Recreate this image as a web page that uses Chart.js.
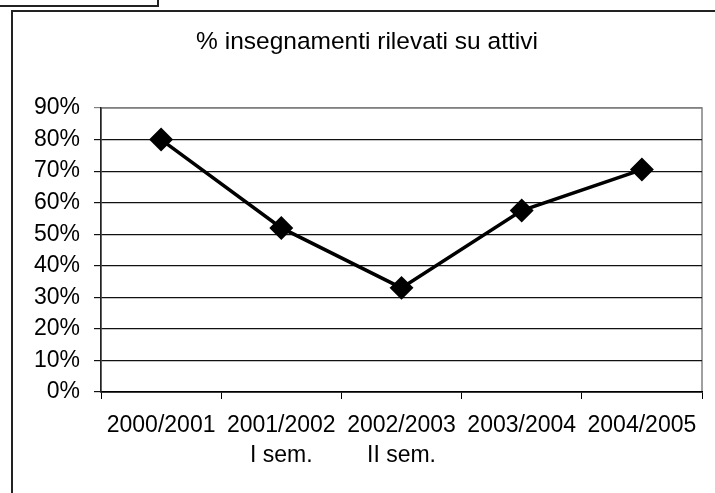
<!DOCTYPE html>
<html>
<head>
<meta charset="utf-8">
<script src="https://cdn.jsdelivr.net/npm/chart.js@4/dist/chart.umd.min.js"></script>
<style>
  html, body { margin: 0; padding: 0; background: #fff; }
  #wrap { width: 715px; height: 493px; }
</style>
</head>
<body>
<div id="wrap"><canvas id="chart"></canvas></div>
<script>
const title = '% insegnamenti rilevati su attivi';
const years = [['2000/2001'], ['2001/2002', 'I sem.'], ['2002/2003', 'II sem.'], ['2003/2004'], ['2004/2005']];
const rilevati = [80, 52, 33, 57.5, 70.5];
const yMax = 90;
const yStep = 10;

const FONT = '"Liberation Sans", Arial, sans-serif';

// frame, little box top-left, plot-area border and title
const decor = {
  id: 'decor',
  beforeDraw(chart) {
    const ctx = chart.ctx;
    const a = chart.chartArea;
    ctx.save();
    ctx.strokeStyle = '#222';
    ctx.lineWidth = 2;
    ctx.strokeRect(-2, -2, 160, 8);
    ctx.beginPath();
    ctx.moveTo(12, 493);
    ctx.lineTo(12, 11);
    ctx.lineTo(716, 11);
    ctx.stroke();
    ctx.strokeStyle = '#808080';
    ctx.lineWidth = 1.5;
    ctx.strokeRect(a.left, a.top, a.right - a.left, a.bottom - a.top);
    ctx.fillStyle = '#000';
    ctx.font = '24.5px ' + FONT;
    ctx.textAlign = 'center';
    ctx.textBaseline = 'middle';
    ctx.fillText(title, 367, 42);
    ctx.restore();
  }
};

new Chart(document.getElementById('chart'), {
  type: 'line',
  data: {
    labels: years,
    datasets: [{
      label: title,
      data: rilevati,
      borderColor: '#000',
      borderWidth: 3.5,
      backgroundColor: '#000',
      pointStyle: 'rectRot',
      pointRadius: 9.5,
      pointHoverRadius: 9.5,
      tension: 0
    }]
  },
  options: {
    responsive: true,
    maintainAspectRatio: false,
    animation: false,
    layout: { padding: { left: 12, right: 12, top: 108, bottom: 0 } },
    plugins: {
      legend: { display: false },
      tooltip: { enabled: false }
    },
    scales: {
      x: {
        offset: true,
        afterFit: s => { s.height = 101; },
        border: { color: '#000', width: 1.5 },
        grid: { offset: true, drawOnChartArea: false, drawTicks: true, tickLength: 7, color: '#000' },
        ticks: { color: '#000', padding: 12, font: { family: FONT, size: 23, lineHeight: 1.3 }, maxRotation: 0, autoSkip: false }
      },
      y: {
        min: 0,
        max: yMax,
        afterFit: s => { s.width = 89; },
        border: { color: '#222', width: 1.5 },
        grid: {
          tickLength: 7,
          lineWidth: 1.2,
          color: c => c.tick && c.tick.value === yMax ? '#808080' : '#111'
        },
        ticks: {
          stepSize: yStep,
          padding: 14,
          color: '#000',
          font: { family: FONT, size: 23 },
          callback: v => v + '%'
        }
      }
    }
  },
  plugins: [decor]
});
</script>
</body>
</html>
